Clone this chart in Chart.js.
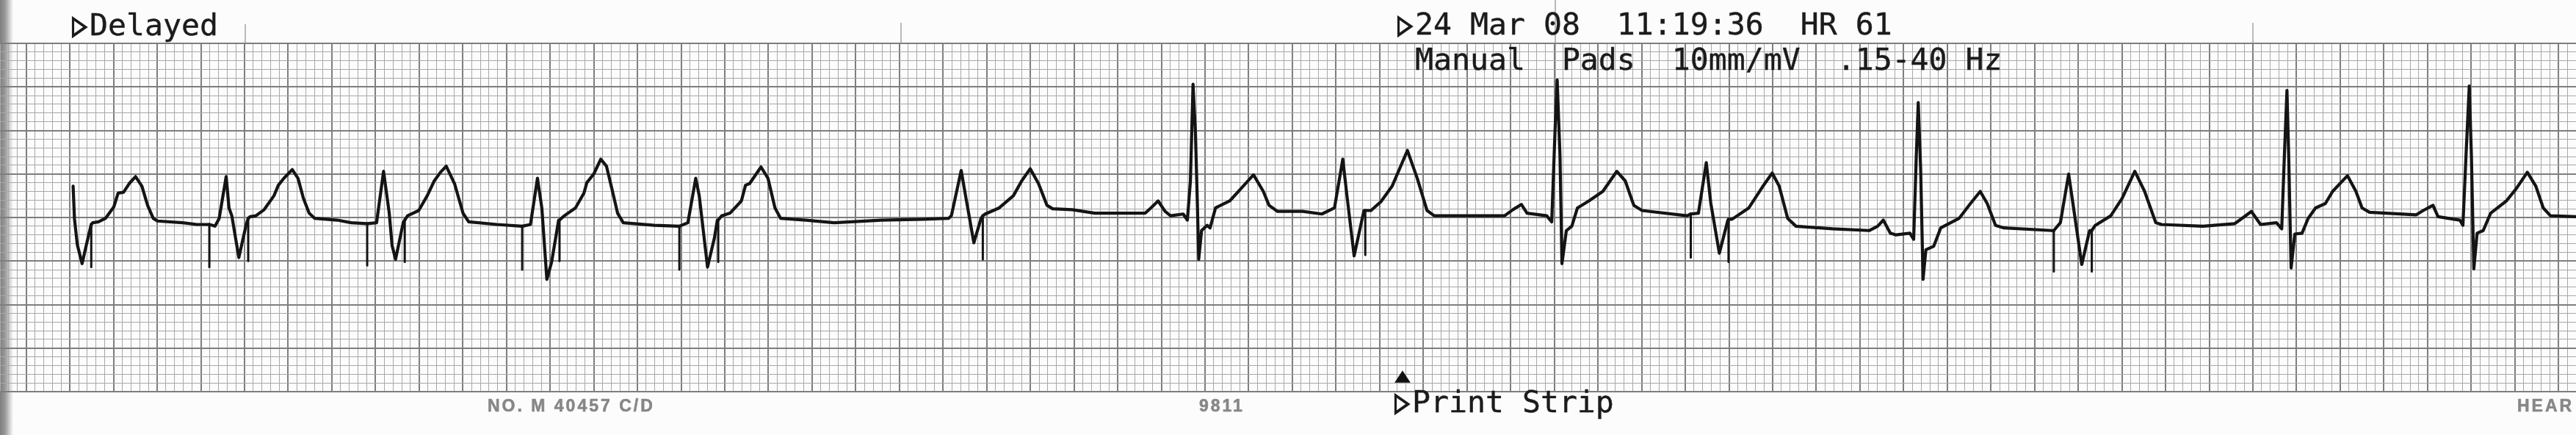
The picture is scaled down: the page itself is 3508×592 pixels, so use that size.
<!DOCTYPE html>
<html>
<head>
<meta charset="utf-8">
<script src="https://cdn.jsdelivr.net/npm/chart.js@4.4.1/dist/chart.umd.min.js"></script>
<style>
  html, body { margin: 0; padding: 0; background: #fcfcfc; }
  body { width: 3508px; height: 592px; position: relative; overflow: hidden; }
  #edge { position: absolute; left: 0; top: 0; width: 20px; height: 592px;
          background: linear-gradient(to right, #7e7e7e 0px, #9a9a9a 7px, #cfcfcf 13px, rgba(252,252,252,0) 18px); }
  #ecg { position: absolute; left: 0; top: 0; }
  .mono { position: absolute; font-family: "DejaVu Sans Mono", "Liberation Mono", monospace;
          font-size: 41.5px; line-height: 41px; color: #1b1b1b; white-space: pre; -webkit-text-stroke: 0.4px #1b1b1b; }
  .tri { display: inline-block; transform: scale(0.8, 1.12); transform-origin: 30% 60%; -webkit-text-stroke: 1.6px #1b1b1b; }
  .paper { position: absolute; font-family: "Liberation Sans", Arial, sans-serif; font-weight: bold;
           font-size: 23px; line-height: 23px; letter-spacing: 3px; color: #878787; white-space: pre; -webkit-text-stroke: 0.6px #878787; }
  .mark { position: absolute; width: 2px; background: #b9b9b9; }
  #arrowUp { position: absolute; left: 1899px; top: 492px; font-family: "DejaVu Sans", sans-serif;
             font-size: 30px; line-height: 30px; color: #111; transform: scale(0.95, 0.72); transform-origin: left bottom; }
</style>
</head>
<body>
<div id="edge"></div>
<div class="mark" style="left:333px;top:33px;height:27px;"></div>
<div class="mark" style="left:1226px;top:31px;height:29px;"></div>
<div class="mark" style="left:2117px;top:0px;height:120px;"></div>
<div class="mark" style="left:3067px;top:31px;height:29px;"></div>
<canvas id="ecg" width="3508" height="592"></canvas>

<div class="mono" style="left:97px;top:13px;"><span class="tri">▷</span>Delayed</div>
<div class="mono" style="left:1902px;top:12px;"><span class="tri">▷</span>24 Mar 08  11:19:36  HR 61</div>
<div class="mono" style="left:1927px;top:60px;">Manual  Pads  10mm/mV  .15-40 Hz</div>
<div class="mono" style="left:1898px;top:526px;"><span class="tri">▷</span>Print Strip</div>
<div id="arrowUp">▲</div>
<div class="paper" style="left:664px;top:541px;">NO. M 40457 C/D</div>
<div class="paper" style="left:1633px;top:541px;">9811</div>
<div class="paper" style="left:3428px;top:541px;">HEAR</div>

<script>
// Paper: 25 mm/s, 10 mm/mV. Time in seconds, amplitude in millivolts.
const timeMin = -0.12, timeMax = 11.68;      // seconds across the strip
const voltMin = -2.0, voltMax = 2.0;         // millivolts (8 large boxes)
const smallBoxSeconds = 0.04, smallBoxMillivolts = 0.1;

const traceSeconds = [
  0.215,0.221,0.234,0.256,0.289,0.298,0.298,0.298,
  0.305,0.331,0.363,0.401,0.421,0.446,0.472,0.501,0.530,0.556,0.582,0.601,0.717,0.781,0.839,0.839,0.839,
  0.865,0.884,0.916,0.929,0.942,0.974,1.007,1.017,1.017,1.017,
  1.026,1.052,1.090,1.135,1.155,1.180,1.219,1.245,1.270,1.296,1.322,1.425,1.489,1.562,1.562,1.562,
  1.605,1.637,1.663,1.676,1.692,1.727,1.734,1.734,1.734,
  1.747,1.798,1.837,1.869,1.898,1.924,1.962,2.001,2.027,2.156,2.272,2.272,2.272,
  2.310,2.342,2.362,2.385,2.407,2.439,2.443,2.443,2.443,
  2.465,2.516,2.555,2.568,2.600,2.632,2.658,2.683,2.709,2.735,2.877,2.992,2.992,2.992,
  3.031,3.067,3.083,3.121,3.153,3.166,3.170,3.170,3.170,
  3.186,3.224,3.276,3.295,3.314,3.366,3.398,3.430,3.456,3.572,3.701,3.917,4.110,4.225,4.238,4.283,4.303,4.341,4.374,4.382,4.382,4.382,
  4.393,4.457,4.522,4.560,4.599,4.637,4.676,4.702,4.792,4.895,5.126,5.152,5.185,5.217,5.242,5.300,5.319,5.333,5.345,5.356,5.365,5.371,5.384,5.410,5.423,5.448,5.513,5.564,5.622,5.667,5.693,5.732,5.847,5.935,5.993,6.031,6.050,6.083,6.128,6.134,6.134,6.134,
  6.160,6.205,6.257,6.327,6.372,6.417,6.450,6.772,6.810,6.849,6.875,6.965,6.988,7.003,7.013,7.026,7.035,7.055,7.080,7.106,7.158,7.222,7.286,7.325,7.364,7.402,7.608,7.625,7.625,7.625,
  7.660,7.696,7.717,7.756,7.795,7.798,7.798,7.798,
  7.814,7.891,7.953,7.998,8.030,8.069,8.107,8.275,8.442,8.481,8.507,8.539,8.565,8.629,8.646,8.658,8.667,8.678,8.689,8.702,8.738,8.770,8.854,8.906,8.951,8.983,9.021,9.060,9.279,9.288,9.288,9.288,
  9.318,9.356,9.382,9.416,9.452,9.462,9.462,9.462,
  9.478,9.549,9.601,9.659,9.704,9.755,9.781,9.971,10.117,10.150,10.193,10.235,10.308,10.332,10.344,10.356,10.364,10.375,10.392,10.425,10.453,10.487,10.532,10.565,10.633,10.672,10.700,10.734,10.947,10.980,11.025,11.048,11.148,11.162,11.176,11.191,11.201,11.212,11.227,11.255,11.289,11.361,11.406,11.457,11.496,11.530,11.563,11.680
];

const traceMillivolts = [
  0.36,-0.01,-0.31,-0.53,-0.17,-0.08,-0.57,-0.08,
  -0.06,-0.05,-0.01,0.12,0.28,0.29,0.39,0.47,0.36,0.14,-0.01,-0.04,-0.06,-0.08,-0.08,-0.57,-0.08,
  -0.10,-0.01,0.47,0.11,0.02,-0.46,-0.09,-0.01,-0.50,-0.01,
  0.01,0.02,0.09,0.25,0.37,0.45,0.55,0.45,0.22,0.05,-0.01,-0.03,-0.06,-0.07,-0.55,-0.07,
  -0.06,0.53,0.05,-0.32,-0.48,-0.06,-0.03,-0.51,-0.03,
  0.02,0.08,0.25,0.42,0.52,0.59,0.39,0.05,-0.05,-0.08,-0.10,-0.60,-0.10,
  -0.08,0.45,0.11,-0.71,-0.51,-0.03,-0.03,-0.50,-0.03,
  0.02,0.11,0.28,0.40,0.50,0.67,0.59,0.33,0.05,-0.06,-0.09,-0.10,-0.60,-0.10,
  -0.06,0.45,0.25,-0.57,-0.23,-0.03,-0.03,-0.51,-0.03,
  0.02,0.05,0.19,0.37,0.39,0.58,0.45,0.11,-0.01,-0.03,-0.06,-0.03,-0.02,-0.01,0.02,0.54,0.25,-0.29,-0.01,0.02,-0.48,0.02,
  0.04,0.11,0.25,0.42,0.56,0.39,0.14,0.10,0.09,0.05,0.05,0.11,0.19,0.07,0.02,0.04,-0.03,0.42,1.53,0.98,0.14,-0.48,-0.15,-0.09,-0.12,0.11,0.19,0.33,0.49,0.30,0.14,0.07,0.07,0.04,0.11,0.67,0.25,-0.44,0.08,0.08,-0.43,0.08,
  0.08,0.18,0.36,0.77,0.45,0.08,0.02,0.02,0.09,0.15,0.05,0.02,-0.05,0.98,1.58,0.70,-0.53,-0.15,-0.10,0.11,0.19,0.30,0.53,0.42,0.14,0.08,0.02,0.04,-0.46,0.04,
  0.05,0.63,0.16,-0.41,-0.03,-0.02,-0.51,-0.02,
  -0.02,0.11,0.35,0.51,0.36,-0.01,-0.10,-0.13,-0.15,-0.10,-0.03,-0.18,-0.20,-0.18,-0.25,0.70,1.32,0.56,-0.71,-0.37,-0.33,-0.12,-0.01,0.16,0.30,0.16,-0.09,-0.12,-0.15,-0.15,-0.62,-0.15,
  -0.06,0.50,0.05,-0.54,-0.15,-0.15,-0.62,-0.15,
  -0.09,0.02,0.22,0.53,0.30,-0.06,-0.08,-0.10,-0.07,-0.01,0.07,-0.08,-0.06,-0.13,0.70,1.46,0.70,-0.58,-0.19,-0.18,-0.01,0.11,0.16,0.30,0.48,0.30,0.11,0.06,0.03,0.08,0.14,0.01,-0.03,-0.09,0.70,1.51,0.70,-0.59,-0.18,-0.15,0.05,0.19,0.33,0.52,0.36,0.11,0.02,0.01
];

if (traceSeconds.length !== traceMillivolts.length) {
  console.error('length mismatch', traceSeconds.length, traceMillivolts.length);
}

const points = traceSeconds.map((t, i) => ({ x: t, y: traceMillivolts[i] }));

const MAJOR = '#7e7e7e', MINOR = '#a8a8a8';

function buildTicks(min, max, step) {
  const first = Math.round(min / step), last = Math.round(max / step);
  const out = [];
  for (let i = first; i <= last; i++) out.push({ value: +(i * step).toFixed(4) });
  return out;
}
function isMajor(value, step) { return Math.round(value / step) % 5 === 0; }

new Chart(document.getElementById('ecg'), {
  type: 'line',
  data: {
    datasets: [{
      label: 'ECG',
      data: points,
      borderColor: '#141414',
      borderWidth: 4.2,
      pointRadius: 0,
      tension: 0,
      fill: false,
      borderJoinStyle: 'round',
      borderCapStyle: 'round',
      segment: {
        borderWidth: c => (c.p0.parsed.x === c.p1.parsed.x ? 3 : 4.2)
      }
    }]
  },
  options: {
    responsive: false,
    animation: false,
    devicePixelRatio: 1,
    events: [],
    layout: { padding: { top: 59, bottom: 59, left: 0, right: 0 } },
    plugins: { legend: { display: false }, tooltip: { enabled: false } },
    scales: {
      x: {
        type: 'linear', min: timeMin, max: timeMax,
        afterBuildTicks: axis => { axis.ticks = buildTicks(timeMin, timeMax, smallBoxSeconds); },
        ticks: { display: false, autoSkip: false },
        border: { display: false },
        grid: {
          drawTicks: false,
          color: c => (c.tick && isMajor(c.tick.value, smallBoxSeconds) ? MAJOR : MINOR),
          lineWidth: c => (c.tick && isMajor(c.tick.value, smallBoxSeconds) ? 2 : 1)
        }
      },
      y: {
        type: 'linear', min: voltMin, max: voltMax,
        afterBuildTicks: axis => { axis.ticks = buildTicks(voltMin, voltMax, smallBoxMillivolts); },
        ticks: { display: false, autoSkip: false },
        border: { display: false },
        grid: {
          drawTicks: false,
          color: c => (c.tick && isMajor(c.tick.value, smallBoxMillivolts) ? MAJOR : MINOR),
          lineWidth: c => (c.tick && isMajor(c.tick.value, smallBoxMillivolts) ? 2 : 1)
        }
      }
    }
  }
});
</script>
</body>
</html>
